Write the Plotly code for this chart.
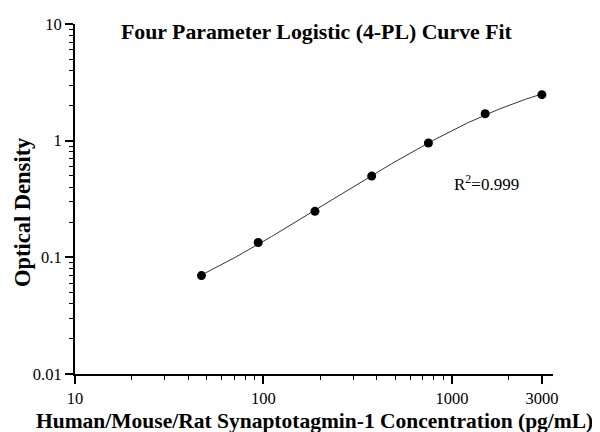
import numpy as np
import plotly.graph_objects as go

# Data
conc = [46.875, 93.75, 187.5, 375, 750, 1500, 3000]
od = [0.0697, 0.134, 0.248, 0.497, 0.955, 1.70, 2.48]
x_tick_vals = [10, 100, 1000, 3000]
x_tick_text = ["10", "100", "1000", "3000"]
y_tick_vals = [0.01, 0.1, 1, 10]
y_tick_text = ["0.01", "0.1", "1", "10"]
title_text = "Four Parameter Logistic (4-PL) Curve Fit"
x_title = "Human/Mouse/Rat Synaptotagmin-1 Concentration (pg/mL)"
y_title = "Optical Density"
r2_text = "R<sup>2</sup>=0.999"

# 4-PL fit of the points, relative-error weighting
# (grid over B, C; weighted linear solve for A, D)
xs = np.array(conc, dtype=float)
ys = np.array(od, dtype=float)
w = 1.0 / ys
best = None
for B in np.linspace(0.6, 2.0, 141):
    for logC in np.linspace(2.0, 5.0, 301):
        C = 10 ** logC
        f = 1.0 / (1.0 + (xs / C) ** B)
        M = np.column_stack([f, 1 - f])
        coef, *_ = np.linalg.lstsq(M * w[:, None], ys * w, rcond=None)
        r = float((((M @ coef) - ys) * w) ** 2 @ np.ones_like(ys))
        if best is None or r < best[0]:
            best = (r, B, C, coef[0], coef[1])
_, B, C, A, D = best
xc = np.logspace(np.log10(xs.min()), np.log10(xs.max()), 200)
yc = D + (A - D) / (1 + (xc / C) ** B)

def minor_vals(lo_dec, hi_dec, upper):
    vals = []
    for d in range(lo_dec, hi_dec + 1):
        for m in range(2, 10):
            v = m * 10 ** d
            if v <= upper:
                vals.append(v)
    return vals

fig = go.Figure()
fig.add_trace(go.Scatter(x=xc, y=yc, mode="lines",
                         line=dict(color="#333333", width=1), hoverinfo="skip",
                         showlegend=False))
fig.add_trace(go.Scatter(x=conc, y=od, mode="markers",
                         marker=dict(color="black", size=9), showlegend=False))

font_family = "Liberation Serif, Times New Roman, serif"
# page body adds an 8px offset, so the figure is sized 8px smaller
fig.update_layout(
    width=592, height=424,
    margin=dict(l=67, r=47, t=16, b=58),
    paper_bgcolor="white", plot_bgcolor="white",
    font=dict(family=font_family, color="black", size=16.5),
    annotations=[
        dict(text="<b>" + title_text + "</b>", xref="paper", yref="paper",
             x=0.5, y=1, xshift=3, yshift=-8, xanchor="center", yanchor="middle",
             showarrow=False, font=dict(size=21.8, family=font_family)),
        dict(text="<b>" + x_title + "</b>", xref="paper", yref="paper",
             x=0.5, y=0, xshift=0, yshift=-47, xanchor="center", yanchor="middle",
             showarrow=False, font=dict(size=21.5, family=font_family)),
        dict(text="<b>" + y_title + "</b>", xref="paper", yref="paper",
             x=0, y=0.5, xshift=-53, yshift=-13, xanchor="center", yanchor="middle",
             textangle=-90, showarrow=False, font=dict(size=22.5, family=font_family)),
        dict(text=r2_text, xref="x", yref="y", x=3.185, y=-0.363,
             showarrow=False, font=dict(size=17, family=font_family)),
    ],
)
fig.update_xaxes(
    type="log", range=[1, 3.536], automargin=False,
    tickvals=x_tick_vals, ticktext=x_tick_text,
    ticks="outside", ticklen=8, tickwidth=1.5, tickcolor="black",
    showline=True, linecolor="black", linewidth=2, showgrid=False, zeroline=False,
    minor=dict(tickvals=minor_vals(1, 3, 3000), ticks="outside", ticklen=4,
               tickwidth=1.2, tickcolor="black", showgrid=False),
    tickfont=dict(size=16.5),
)
fig.update_yaxes(
    type="log", range=[-2, 1], automargin=False,
    tickvals=y_tick_vals, ticktext=y_tick_text,
    ticks="outside", ticklen=8, tickwidth=1.5, tickcolor="black",
    showline=True, linecolor="black", linewidth=2, showgrid=False, zeroline=False,
    minor=dict(tickvals=minor_vals(-2, 0, 10), ticks="outside", ticklen=4,
               tickwidth=1.2, tickcolor="black", showgrid=False),
    tickfont=dict(size=16.5),
)
fig.write_html("out.html")
